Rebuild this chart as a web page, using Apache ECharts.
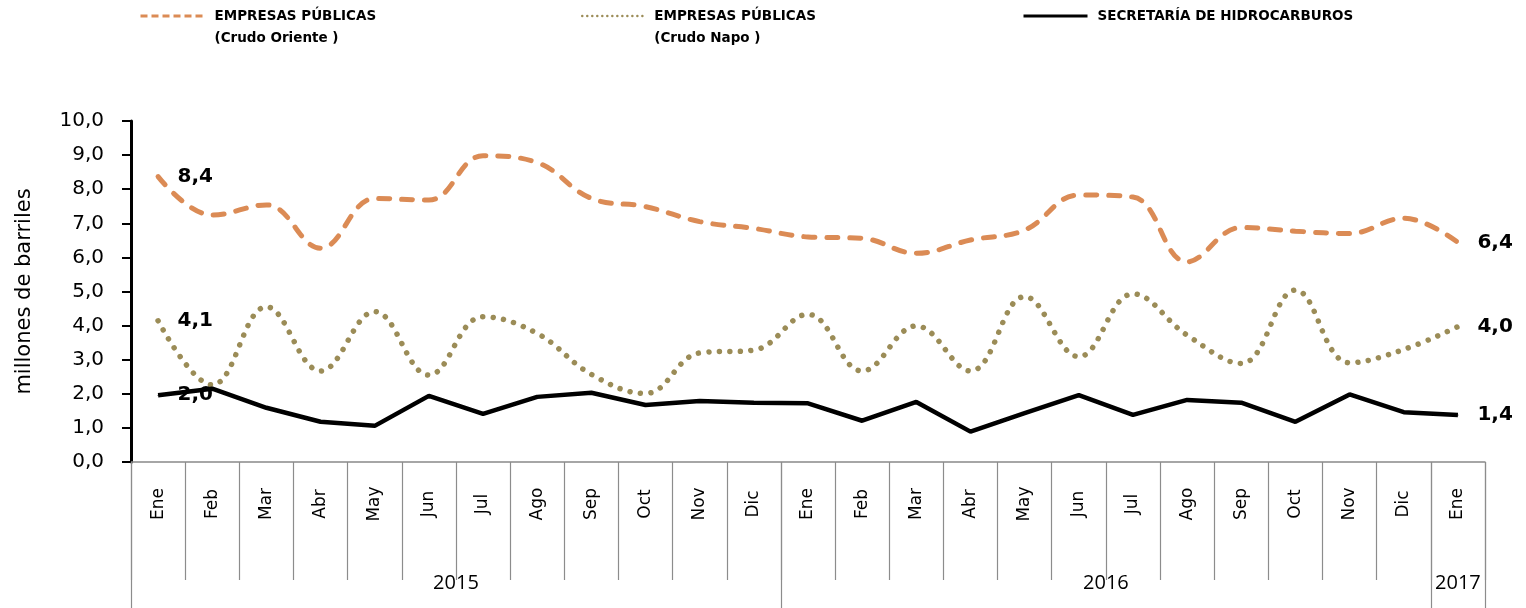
<!DOCTYPE html>
<html>
<head>
<meta charset="utf-8">
<script src="https://cdn.jsdelivr.net/npm/echarts@6/dist/echarts.min.js"></script>
<style>
  html, body { margin: 0; padding: 0; background: #fff; }
  #main { width: 1526px; height: 608px; }
</style>
</head>
<body>
<div id="main"></div>
<script>
var months = ['Ene','Feb','Mar','Abr','May','Jun','Jul','Ago','Sep','Oct','Nov','Dic',
              'Ene','Feb','Mar','Abr','May','Jun','Jul','Ago','Sep','Oct','Nov','Dic','Ene'];
var years = ['2015', '2016', '2017'];
var yearBounds = [0, 12, 24, 25];      // category boundaries between years
var yearCenters = [6, 18, 24.5];
var yTicks = [0, 1, 2, 3, 4, 5, 6, 7, 8, 9, 10];

var nameOriente = 'EMPRESAS PÚBLICAS\n(Crudo Oriente )';
var nameNapo = 'EMPRESAS PÚBLICAS\n(Crudo Napo )';
var nameSecretaria = 'SECRETARÍA DE HIDROCARBUROS';

var oriente = [8.37, 7.24, 7.54, 6.27, 7.73, 7.68, 8.98, 8.78, 7.73, 7.49, 7.05, 6.85,
               6.60, 6.56, 6.12, 6.51, 6.80, 7.83, 7.77, 5.87, 6.88, 6.77, 6.70, 7.15, 6.44];
var napo = [4.14, 2.26, 4.55, 2.67, 4.41, 2.55, 4.26, 3.77, 2.57, 2.01, 3.20, 3.28,
            4.33, 2.67, 3.99, 2.67, 4.85, 3.09, 4.93, 3.72, 2.89, 5.04, 2.91, 3.30, 3.97];
var secretaria = [1.96, 2.15, 1.59, 1.18, 1.06, 1.94, 1.41, 1.91, 2.03, 1.67, 1.79, 1.74,
                  1.72, 1.21, 1.76, 0.89, 1.43, 1.96, 1.38, 1.82, 1.74, 1.18, 1.98, 1.46, 1.38];

function fmt(v) { return v.toFixed(1).replace('.', ','); }

// first and last point get a value label
function withEndLabels(arr) {
  return arr.map(function (v, i) {
    if (i === 0 || i === arr.length - 1) {
      return { value: v, symbol: 'circle', symbolSize: 1, label: { show: true } };
    }
    return v;
  });
}

var valueLabel = {
  show: false,
  position: 'right',
  distance: 19,
  color: '#000',
  fontFamily: 'DejaVu Sans',
  fontWeight: 'bold',
  fontSize: 20,
  formatter: function (p) { return fmt(p.value); }
};

var legendText = {
  color: '#000', fontFamily: 'DejaVu Sans', fontWeight: 'bold', fontSize: 13.5,
  lineHeight: 22, padding: [0, 0, 0, 5]
};
// blank first line keeps the icon level with the first text line
function twoLines(name) { return ' \n' + name; }

var myChart = echarts.init(document.getElementById('main'));
var option = {
  animation: false,
  backgroundColor: '#fff',
  legend: [{
    left: 139, top: -17, padding: 0, itemWidth: 64, itemHeight: 14,
    selectedMode: false, data: [nameOriente], textStyle: legendText, formatter: twoLines,
    itemStyle: { opacity: 0 },
    lineStyle: { width: 3, type: [7, 4], cap: 'butt' }
  }, {
    left: 581, top: -17, padding: 0, itemWidth: 62, itemHeight: 14,
    selectedMode: false, data: [nameNapo], textStyle: legendText, formatter: twoLines,
    itemStyle: { opacity: 0 },
    lineStyle: { width: 2.5, type: [0.01, 5], cap: 'round' }
  }, {
    left: 1022, top: 5, padding: 0, itemWidth: 64, itemHeight: 14,
    selectedMode: false, data: [nameSecretaria], textStyle: legendText,
    itemStyle: { opacity: 0 },
    lineStyle: { width: 3 }
  }],
  grid: { left: 131, right: 41, top: 121, bottom: 146, outerBoundsMode: 'none' },
  xAxis: [{
    type: 'category',
    data: months,
    boundaryGap: true,
    axisLine: { lineStyle: { color: '#898989', width: 1.5 } },
    axisTick: { show: true, interval: 0, length: 118, lineStyle: { color: '#8c8c8c', width: 1.2 } },
    axisLabel: {
      interval: 0, rotate: 90, align: 'center', verticalAlign: 'middle', margin: 42,
      color: '#000', fontFamily: 'DejaVu Sans', fontSize: 17
    },
    splitLine: { show: false }
  }, {
    type: 'value',
    position: 'bottom',
    min: 0,
    max: 25,
    axisLine: { show: false },
    axisTick: { show: true, customValues: yearBounds, length: 146, lineStyle: { color: '#8c8c8c', width: 1.2 } },
    axisLabel: {
      customValues: yearCenters, margin: 121, verticalAlign: 'middle',
      color: '#000', fontFamily: 'Open Sans', fontSize: 20,
      formatter: function (v) { return years[yearCenters.indexOf(v)]; }
    },
    splitLine: { show: false }
  }],
  yAxis: {
    type: 'value',
    min: yTicks[0],
    max: yTicks[yTicks.length - 1],
    interval: 1,
    name: 'millones de barriles',
    nameLocation: 'middle',
    nameGap: 96,
    nameTextStyle: { color: '#000', fontFamily: 'DejaVu Sans', fontSize: 21 },
    axisLine: { show: true, lineStyle: { color: '#000', width: 3 } },
    axisTick: { show: true, length: 9, lineStyle: { color: '#000', width: 2 } },
    axisLabel: {
      margin: 27, color: '#000', fontFamily: 'DejaVu Sans', fontSize: 20,
      formatter: function (v) { return fmt(v); }
    },
    splitLine: { show: false }
  },
  series: [{
    name: nameOriente,
    type: 'line',
    smooth: 0.4,
    symbol: 'none',
    data: withEndLabels(oriente),
    itemStyle: { color: '#DB8B55' },
    lineStyle: { color: '#DB8B55', width: 5, type: [11, 12], cap: 'round' },
    label: valueLabel
  }, {
    name: nameNapo,
    type: 'line',
    smooth: 0.4,
    symbol: 'none',
    data: withEndLabels(napo),
    itemStyle: { color: '#9B8C57' },
    lineStyle: { color: '#9B8C57', width: 5.5, type: [0.01, 10.5], cap: 'round' },
    label: valueLabel
  }, {
    name: nameSecretaria,
    type: 'line',
    symbol: 'none',
    data: withEndLabels(secretaria),
    itemStyle: { color: '#000' },
    lineStyle: { color: '#000', width: 4.5 },
    label: valueLabel
  }]
};
myChart.setOption(option);
</script>
</body>
</html>
